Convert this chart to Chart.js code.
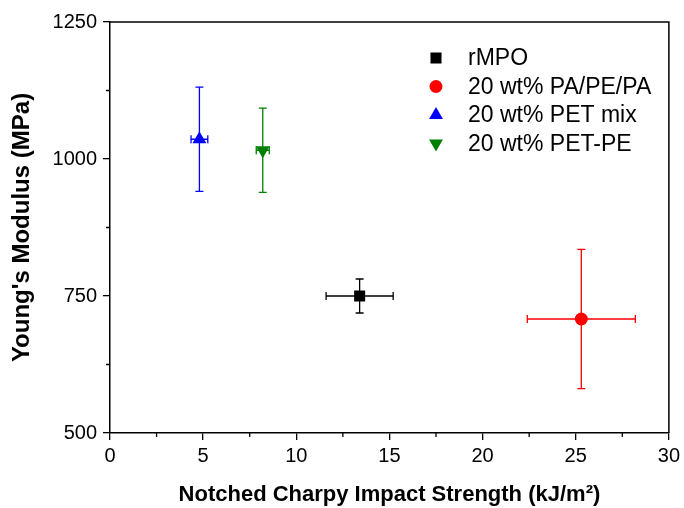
<!DOCTYPE html>
<html>
<head>
<meta charset="utf-8">
<script src="https://cdn.jsdelivr.net/npm/chart.js@4.4.1/dist/chart.umd.min.js"></script>
<style>
  html, body { margin: 0; padding: 0; background: #fff; }
  #wrap { width: 684px; height: 508px; }
</style>
</head>
<body>
<div id="wrap"><canvas id="c" width="684" height="508"></canvas></div>
<script>
// ---- Data ----
const seriesLabels = ['rMPO', '20 wt% PA/PE/PA', '20 wt% PET mix', '20 wt% PET-PE'];
const impactStrength = [13.4, 25.3, 4.8, 8.2];      // x, kJ/m²
const impactError    = [1.8, 2.9, 0.45, 0.35];      // x error
const youngsModulus  = [750, 708, 1036, 1016];      // y, MPa
const modulusError   = [31, 127, 95, 77];           // y error
const seriesColors   = ['#000000', '#ff0000', '#0000ff', '#008000'];
const pointStyles    = ['rect', 'circle', 'triangle', 'triangle'];
const pointRotations = [0, 0, 0, 180];
const pointRadii     = [7.8, 6.5, 8, 8];
const xTickValues = [0, 5, 10, 15, 20, 25, 30];
const yTickValues = [500, 750, 1000, 1250];

const FONT = "'Liberation Sans', Arial, sans-serif";

const datasets = seriesLabels.map((lab, i) => ({
  label: lab,
  data: [{ x: impactStrength[i], y: youngsModulus[i], xErr: impactError[i], yErr: modulusError[i] }],
  backgroundColor: seriesColors[i],
  borderColor: seriesColors[i],
  borderWidth: 0,
  pointStyle: pointStyles[i],
  rotation: pointRotations[i],
  pointRadius: pointRadii[i],
  pointHoverRadius: pointRadii[i]
}));

const errorBars = {
  id: 'errorBars',
  beforeDatasetsDraw(chart) {
    const ctx = chart.ctx;
    const xs = chart.scales.x, ys = chart.scales.y;
    const cap = 4;
    chart.data.datasets.forEach((ds) => {
      ds.data.forEach((p) => {
        const cx = xs.getPixelForValue(p.x), cy = ys.getPixelForValue(p.y);
        const x1 = xs.getPixelForValue(p.x - p.xErr), x2 = xs.getPixelForValue(p.x + p.xErr);
        const y1 = ys.getPixelForValue(p.y + p.yErr), y2 = ys.getPixelForValue(p.y - p.yErr);
        ctx.save();
        ctx.strokeStyle = ds.borderColor;
        ctx.lineWidth = 1.3;
        ctx.beginPath();
        ctx.moveTo(x1, cy); ctx.lineTo(x2, cy);
        ctx.moveTo(x1, cy - cap); ctx.lineTo(x1, cy + cap);
        ctx.moveTo(x2, cy - cap); ctx.lineTo(x2, cy + cap);
        ctx.moveTo(cx, y1); ctx.lineTo(cx, y2);
        ctx.moveTo(cx - cap, y1); ctx.lineTo(cx + cap, y1);
        ctx.moveTo(cx - cap, y2); ctx.lineTo(cx + cap, y2);
        ctx.stroke();
        ctx.restore();
      });
    });
  }
};

const frameAndMinor = {
  id: 'frameAndMinor',
  afterDraw(chart) {
    const ctx = chart.ctx, a = chart.chartArea;
    const xs = chart.scales.x, ys = chart.scales.y;
    ctx.save();
    ctx.strokeStyle = '#000';
    ctx.lineWidth = 1.5;
    ctx.beginPath();
    ctx.moveTo(a.left, a.top); ctx.lineTo(a.right, a.top); ctx.lineTo(a.right, a.bottom);
    ctx.stroke();
    ctx.lineWidth = 1.3;
    ctx.beginPath();
    for (let i = 0; i < xTickValues.length - 1; i++) {
      const px = xs.getPixelForValue((xTickValues[i] + xTickValues[i + 1]) / 2);
      ctx.moveTo(px, a.bottom); ctx.lineTo(px, a.bottom + 4);
    }
    for (let i = 0; i < yTickValues.length - 1; i++) {
      const py = ys.getPixelForValue((yTickValues[i] + yTickValues[i + 1]) / 2);
      ctx.moveTo(a.left, py); ctx.lineTo(a.left - 4, py);
    }
    ctx.stroke();
    ctx.restore();
  }
};

const customLegend = {
  id: 'customLegend',
  afterDraw(chart) {
    const ctx = chart.ctx;
    const x0 = 436, tx = 468, y0 = 58, dy = 28.5;
    chart.data.datasets.forEach((ds, i) => {
      const y = y0 + i * dy;
      ctx.save();
      ctx.fillStyle = ds.backgroundColor;
      ctx.strokeStyle = ds.backgroundColor;
      Chart.helpers.drawPoint(ctx, {
        pointStyle: ds.pointStyle, rotation: ds.rotation, radius: ds.pointRadius, borderWidth: 0
      }, x0, y);
      ctx.restore();
      ctx.save();
      ctx.fillStyle = '#000';
      ctx.font = "23px " + FONT;
      ctx.textBaseline = 'middle';
      ctx.fillText(ds.label, tx, y + 1);
      ctx.restore();
    });
  }
};

new Chart(document.getElementById('c'), {
  type: 'scatter',
  data: { datasets },
  options: {
    responsive: false,
    animation: false,
    devicePixelRatio: 1,
    layout: { padding: { top: 22, right: 13, left: 0, bottom: 0 } },
    plugins: { legend: { display: false }, tooltip: { enabled: false } },
    scales: {
      x: {
        type: 'linear', min: 0, max: 30,
        afterBuildTicks: (s) => { s.ticks = xTickValues.map(v => ({ value: v })); },
        afterFit: (s) => { s.height = 75; },
        grid: { drawOnChartArea: false, drawTicks: true, tickLength: 7, color: '#000', lineWidth: 1.3 },
        border: { display: true, color: '#000', width: 1.5 },
        ticks: { color: '#000', font: { family: FONT, size: 20 }, padding: 4, maxRotation: 0,
                 callback: (v) => String(v) },
        title: { display: true, text: 'Notched Charpy Impact Strength (kJ/m²)', color: '#000',
                 font: { family: FONT, size: 22, weight: 'bold' }, padding: { top: 0, bottom: 0 } }
      },
      y: {
        type: 'linear', min: 500, max: 1250,
        afterBuildTicks: (s) => { s.ticks = yTickValues.map(v => ({ value: v })); },
        afterFit: (s) => { s.width = 110; },
        grid: { drawOnChartArea: false, drawTicks: true, tickLength: 7, color: '#000', lineWidth: 1.3 },
        border: { display: true, color: '#000', width: 1.5 },
        ticks: { color: '#000', font: { family: FONT, size: 20 }, padding: 6,
                 callback: (v) => String(v) },
        title: { display: true, text: "Young's Modulus (MPa)", color: '#000',
                 font: { family: FONT, size: 24, weight: 'bold' }, padding: { top: 8, bottom: 0 } }
      }
    }
  },
  plugins: [errorBars, frameAndMinor, customLegend]
});
</script>
</body>
</html>
